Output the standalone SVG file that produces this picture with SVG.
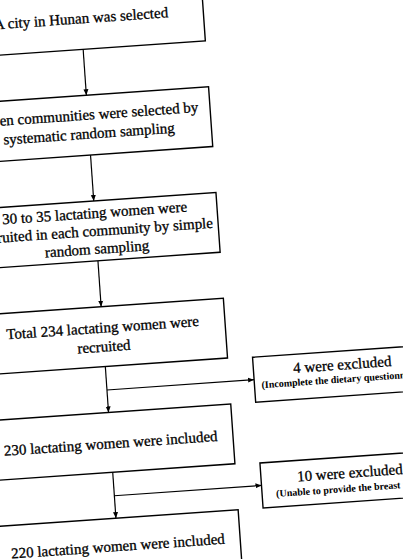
<svg xmlns="http://www.w3.org/2000/svg" width="403" height="559" viewBox="0 0 403 559">
<defs>
<style>
.box{fill:#fff;stroke:#000;stroke-width:1.4}
.t{font-family:"Liberation Serif","Times New Roman",serif;font-size:15px;fill:#000;stroke:#000;stroke-width:0.3;text-anchor:middle}
.s{font-family:"Liberation Serif","Times New Roman",serif;font-size:10px;font-weight:bold;fill:#000;text-anchor:middle}
.c{fill:none;stroke:#000;stroke-width:1.2}
</style>
<marker id="ah" viewBox="0 0 6 6" refX="6" refY="3" markerWidth="6" markerHeight="6" markerUnits="userSpaceOnUse" orient="auto"><path d="M0,0.5 L6,3 L0,5.5 z" fill="#000"/></marker>
</defs>
<rect width="403" height="559" fill="#fff"/>
<g transform="rotate(-4)">
<g id="connectors">
<line class="c" x1="79.5" y1="55" x2="79.5" y2="101" marker-end="url(#ah)"/>
<line class="c" x1="79.5" y1="161" x2="79.5" y2="207" marker-end="url(#ah)"/>
<line class="c" x1="79.5" y1="267" x2="79.5" y2="313" marker-end="url(#ah)"/>
<line class="c" x1="79.5" y1="373" x2="79.5" y2="419" marker-end="url(#ah)"/>
<line class="c" x1="79.5" y1="396.5" x2="227" y2="396.5" marker-end="url(#ah)"/>
<line class="c" x1="79.5" y1="479" x2="79.5" y2="525" marker-end="url(#ah)"/>
<line class="c" x1="79.5" y1="502.5" x2="227" y2="502.5" marker-end="url(#ah)"/>
</g>
<g id="n1"><rect class="box" x="-43" y="-5" width="245" height="60"/><text class="t" x="79.5" y="29">A city in Hunan was selected</text></g>
<g id="n2"><rect class="box" x="-43" y="101" width="245" height="60"/><text class="t" x="79.5" y="125.5">Seven communities were selected by</text><text class="t" x="79.5" y="144.5">systematic random sampling</text></g>
<g id="n3"><rect class="box" x="-43" y="207" width="245" height="60"/><text class="t" x="79.5" y="224">30 to 35 lactating women were</text><text class="t" x="79.5" y="242">recruited in each community by simple</text><text class="t" x="79.5" y="260">random sampling</text></g>
<g id="n4"><rect class="box" x="-43" y="313" width="245" height="60"/><text class="t" x="79.5" y="339">Total 234 lactating women were</text><text class="t" x="79.5" y="358">recruited</text></g>
<g id="n5"><rect class="box" x="-43" y="419" width="245" height="60"/><text class="t" x="79.5" y="455">230 lactating women were included</text></g>
<g id="n6"><rect class="box" x="-43" y="525" width="245" height="60"/><text class="t" x="79.5" y="558">220 lactating women were included</text></g>
<g id="e1"><rect class="box" x="227" y="374" width="178" height="45"/><text class="t" x="316" y="392.5">4 were excluded</text><text class="s" x="316" y="405.5">(Incomplete the dietary questionnaire)</text></g>
<g id="e2"><rect class="box" x="227" y="480" width="178" height="45"/><text class="t" x="316" y="501">10 were excluded</text><text class="s" x="316" y="515">(Unable to provide the breast milk)</text></g>
</g>
</svg>
